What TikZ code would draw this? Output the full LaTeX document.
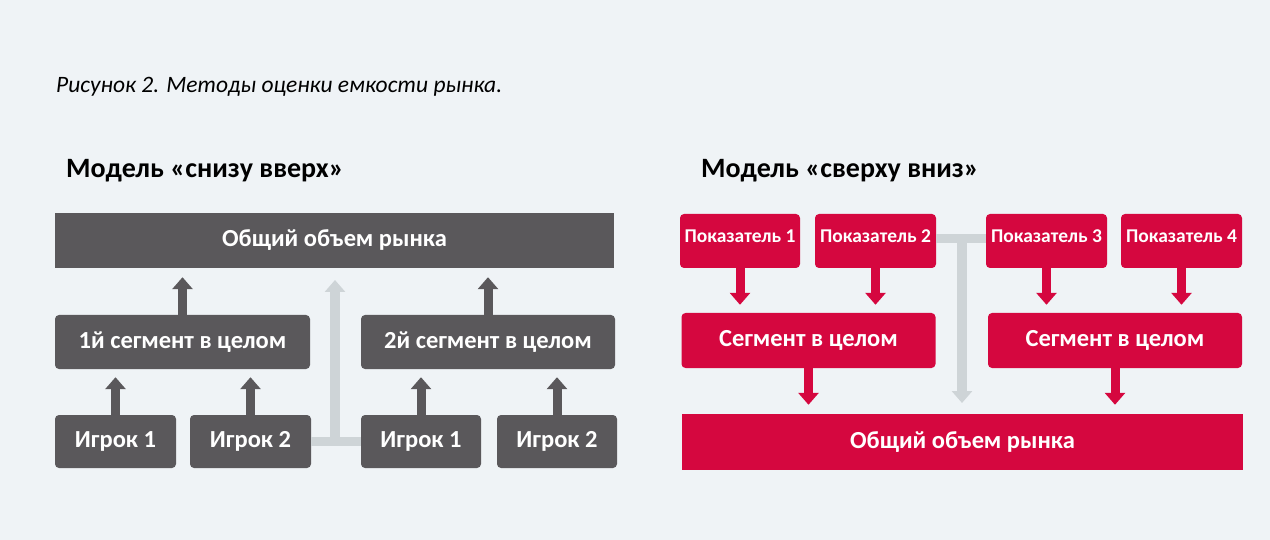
\documentclass[tikz,border=0pt]{standalone}
\usepackage{fontspec}
\setmainfont{Carlito}
\usetikzlibrary{arrows.meta}
\definecolor{bgc}{HTML}{EFF3F6}
\definecolor{dgray}{HTML}{5A585B}
\definecolor{lgray}{HTML}{CED4D7}
\definecolor{redc}{HTML}{D5073F}
\tikzset{
  box/.style={inner sep=0pt, text=white, font=\bfseries\fontsize{24.5}{27}\selectfont},
  gbox/.style={box, fill=dgray, rounded corners=4pt},
  rbox/.style={box, fill=redc, rounded corners=4pt},
  kbox/.style={rbox, font=\bfseries\fontsize{19.5}{22}\selectfont, minimum width=121pt, minimum height=54pt, text depth=10pt},
  arr/.style={line width=9pt, -{Triangle[width=20pt,length=12pt]}},
  garr/.style={arr, draw=dgray},
  rarr/.style={arr, draw=redc},
  larr/.style={arr, draw=lgray, line width=10pt},
  lline/.style={draw=lgray, line width=9pt},
  head/.style={anchor=base west, font=\bfseries\fontsize{28}{31}\selectfont},
}
\begin{document}
\begin{tikzpicture}[x=1pt,y=-1pt]
\fill[bgc] (0,0) rectangle (1270,540);
\useasboundingbox (0,0) rectangle (1270,540);

\node[anchor=base west, inner sep=0pt, font=\itshape\fontsize{23.5}{26}\selectfont] (cap) at (56,93) {Рисунок 2. Методы оценки емкости рынка.};

% ---- left: bottom-up
\node[head, inner sep=0pt] (hl) at (66,178) {Модель «снизу вверх»};
\node[gbox, rounded corners=0pt, minimum width=559pt, minimum height=55pt] (topL) at (334.5,240.5) {Общий объем рынка};
\node[gbox, minimum width=255pt, minimum height=54pt] (s1) at (182.5,342) {1й сегмент в целом};
\node[gbox, minimum width=254pt, minimum height=54pt] (s2) at (488,342) {2й сегмент в целом};
\node[gbox, minimum width=121pt, minimum height=53pt] (p1) at (115.5,441.5) {Игрок 1};
\node[gbox, minimum width=121pt, minimum height=53pt] (p2) at (250.5,441.5) {Игрок 2};
\node[gbox, minimum width=120pt, minimum height=53pt] (p3) at (421,441.5) {Игрок 1};
\node[gbox, minimum width=120pt, minimum height=53pt] (p4) at (557,441.5) {Игрок 2};
\coordinate (jl) at (335,441.5);
\coordinate (tl) at (335,280);

\draw[lline] (p2.east) -- (p3.west);
\draw[larr] ([yshift=4.5pt]jl) -- (tl);
\draw[garr, shorten >=8pt] (p1.north) -- (p1.north |- s1.south);
\draw[garr, shorten >=8pt] (p2.north) -- (p2.north |- s1.south);
\draw[garr, shorten >=8pt] (p3.north) -- (p3.north |- s2.south);
\draw[garr, shorten >=8pt] (p4.north) -- (p4.north |- s2.south);
\draw[garr, shorten >=9pt] (s1.north) -- (s1.north |- topL.south);
\draw[garr, shorten >=9pt] (s2.north) -- (s2.north |- topL.south);

% ---- right: top-down
\node[head, inner sep=0pt] (hr) at (701,178) {Модель «сверху вниз»};
\node[kbox, minimum width=120pt] (k1) at (740,241) {Показатель 1};
\node[kbox] (k2) at (875.5,241) {Показатель 2};
\node[kbox] (k3) at (1046.5,241) {Показатель 3};
\node[kbox] (k4) at (1181.5,241) {Показатель 4};
\node[rbox, minimum width=254pt, minimum height=55pt] (r1) at (808.5,340.5) {Сегмент в целом};
\node[rbox, minimum width=254pt, minimum height=55pt] (r2) at (1115,340.5) {Сегмент в целом};
\node[rbox, rounded corners=0pt, minimum width=561pt, minimum height=56pt] (botR) at (962.5,442) {Общий объем рынка};
\coordinate (jr) at (962,239);
\coordinate (br) at (962,403);

\draw[lline] (k2.east |- jr) -- (k3.west |- jr);
\draw[larr] ([yshift=-4.5pt]jr) -- (br);
\draw[rarr, shorten >=8pt] (k1.south) -- (k1.south |- r1.north);
\draw[rarr, shorten >=8pt] (k2.south) -- (k2.south |- r1.north);
\draw[rarr, shorten >=8pt] (k3.south) -- (k3.south |- r2.north);
\draw[rarr, shorten >=8pt] (k4.south) -- (k4.south |- r2.north);
\draw[rarr, shorten >=9pt] (r1.south) -- (r1.south |- botR.north);
\draw[rarr, shorten >=9pt] (r2.south) -- (r2.south |- botR.north);
\end{tikzpicture}
\end{document}
